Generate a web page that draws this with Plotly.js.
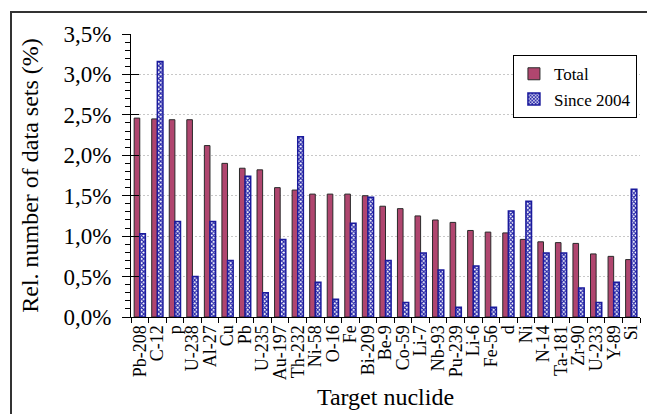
<!DOCTYPE html>
<html>
<head>
<meta charset="utf-8">
<script src="https://cdn.plot.ly/plotly-3.0.1.min.js"></script>
<style>
html,body{margin:0;padding:0;background:#fff;overflow:hidden;}
#chart{width:647px;height:414px;position:relative;}
#frame{position:absolute;left:10px;top:11px;width:700px;height:500px;border:2px solid #333;pointer-events:none;box-sizing:border-box;}
</style>
</head>
<body>
<div id="chart"></div>
<div id="frame"></div>
<script>
const nuclides = ["Pb-208","C-12","p","U-238","Al-27","Cu","Pb","U-235","Au-197","Th-232","Ni-58","O-16","Fe","Bi-209","Be-9","Co-59","Li-7","Nb-93","Pu-239","Li-6","Fe-56","d","Ni","N-14","Ta-181","Zr-90","U-233","Y-89","Si"];
const totalPct = [2.46,2.45,2.44,2.44,2.12,1.90,1.84,1.82,1.60,1.57,1.52,1.52,1.52,1.50,1.37,1.34,1.25,1.20,1.17,1.07,1.05,1.04,0.96,0.93,0.92,0.91,0.78,0.75,0.71];
const since2004Pct = [1.03,3.16,1.18,0.50,1.18,0.70,1.74,0.30,0.96,2.23,0.43,0.22,1.16,1.48,0.70,0.18,0.79,0.58,0.12,0.63,0.12,1.31,1.43,0.79,0.79,0.36,0.18,0.43,1.58];
const seriesNames = ["Total","Since 2004"];
const yTickValues = [0,0.005,0.01,0.015,0.02,0.025,0.03,0.035];

const serif = "Liberation Serif, Times New Roman, serif";

const traces = [
  {
    type: "bar", name: seriesNames[0], x: nuclides, y: totalPct.map(v => v/100),
    legendgroup: "a",
    marker: {color: "#b0466f", line: {color: "#2a2a2a", width: 1}},
    hoverinfo: "x+y"
  },
  {
    type: "bar", name: seriesNames[1], x: nuclides, y: since2004Pct.map(v => v/100),
    legendgroup: "b",
    marker: {color: "#ffffff", line: {color: "#1a1a9c", width: 1.5},
      pattern: {shape: "x", fgcolor: "#2323a8", bgcolor: "#ffffff", size: 3, solidity: 0.6}},
    hoverinfo: "x+y"
  },
  {
    type: "scatter", mode: "lines", x: [nuclides[0]], y: [null], yaxis: "y2",
    showlegend: false, hoverinfo: "skip"
  }
];

const layout = {
  width: 647, height: 414,
  margin: {l: 131, r: 7, t: 34, b: 97},
  paper_bgcolor: "#fff", plot_bgcolor: "#fff",
  separators: ",.",
  font: {family: serif, color: "#000", size: 18},
  barmode: "group", bargap: 0.36, bargroupgap: 0,
  showlegend: true,
  legend: {
    x: 0.994, xanchor: "right", y: 0.925, yanchor: "top",
    bgcolor: "#fff", bordercolor: "#000", borderwidth: 1,
    font: {family: serif, size: 17, color: "#000"},
    traceorder: "grouped", tracegroupgap: 0, itemwidth: 30
  },
  xaxis: {
    type: "category", tickson: "boundaries", range: [-0.5, nuclides.length - 0.5],
    tickmode: "linear", dtick: 1,
    ticks: "outside", ticklen: 5, tickcolor: "#000", tickwidth: 1,
    showline: true, linecolor: "#000", linewidth: 1,
    showgrid: false, zeroline: false,
    tickangle: -90, tickfont: {family: serif, size: 18, color: "#000"},
    title: {text: "Target nuclide", font: {family: serif, size: 24, color: "#000"}, standoff: 8},
    automargin: false
  },
  yaxis: {
    range: [0, 0.035], tickvals: yTickValues, tickformat: ".1%",
    ticks: "outside", ticklen: 8, tickcolor: "#000", tickwidth: 1,
    ticklabelstandoff: 6,
    minor: {dtick: 0.001, tick0: 0, ticks: "outside", ticklen: 5, tickcolor: "#000", tickwidth: 1, showgrid: false},
    showline: true, linecolor: "#000", linewidth: 1,
    showgrid: true, gridcolor: "#c8c8c8", griddash: "2px,2px", gridwidth: 1,
    zeroline: false,
    tickfont: {family: serif, size: 23, color: "#000"},
    title: {text: "Rel. number of data sets (%)", font: {family: serif, size: 24, color: "#000"}, standoff: 18},
    automargin: false
  },
  yaxis2: {
    overlaying: "y", side: "left", range: [0, 0.035], tickvals: yTickValues,
    ticks: "inside", ticklen: 8, tickcolor: "#000", tickwidth: 1,
    showticklabels: false, showgrid: false, zeroline: false, showline: false
  }
};

Plotly.newPlot("chart", traces, layout, {displayModeBar: false, staticPlot: true});
</script>
</body>
</html>
